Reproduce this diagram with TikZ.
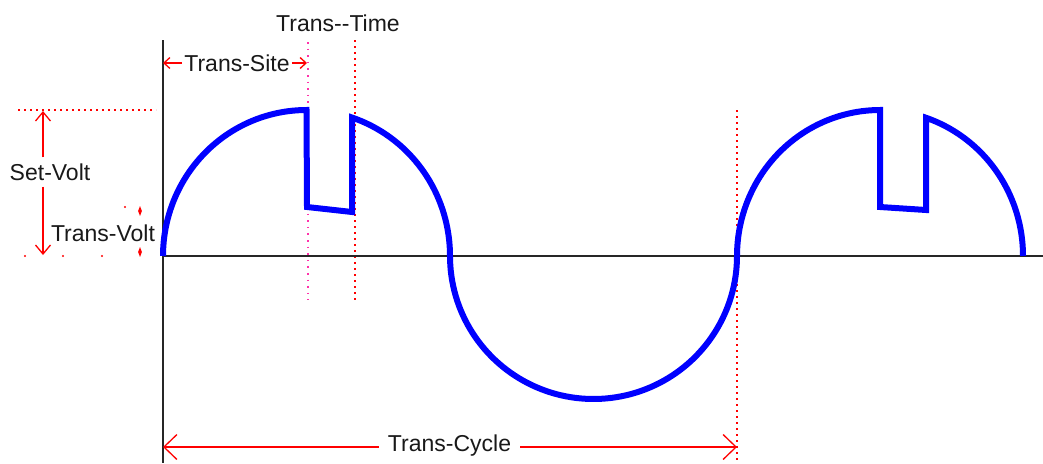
\documentclass[tikz,border=0pt]{standalone}
\usepackage{fontspec}
\setmainfont{Liberation Sans}
\usetikzlibrary{arrows.meta,shapes.geometric,calc}
\begin{document}
\begin{tikzpicture}[x=1pt,y=-1pt,
  lbl/.style={font=\fontsize{23}{26}\selectfont, inner sep=0pt, text=black!90},
  dimred/.style={draw=red, line width=1.3pt},
  bigtip/.style={-{Straight Barb[length=13pt,width=25pt,line width=1.3pt]}},
  midtip/.style={-{Straight Barb[length=9pt,width=15pt,line width=1.3pt]}},
  smalltip/.style={-{Straight Barb[length=6pt,width=11pt,line width=1.3pt]}},
  reddots/.style={draw=red, line width=1.6pt, dash pattern=on 1.6pt off 4.4pt},
  pinkdots/.style={draw={rgb,255:red,255;green,50;blue,170}, line width=1.6pt, dash pattern=on 1.6pt off 5pt},
  wave/.style={draw=blue, line width=6pt, line join=miter},
  axisline/.style={draw=black!85, line width=2pt},
  tvmark/.style={diamond, fill=red, minimum width=4pt, minimum height=10pt, inner sep=0pt},
  stray/.style={fill=red}
]
\useasboundingbox (0,0) rectangle (1043,463);
\fill[white] (0,0) rectangle (1043,463);

% coordinates
\coordinate (O) at (163,256);
\coordinate (axtop) at (163,40);
\coordinate (axbot) at (163,463);
\coordinate (axright) at (1043,256);
\coordinate (d1t) at (308,42);
\coordinate (d1b) at (308,300);
\coordinate (d2t) at (355,40);
\coordinate (d2b) at (355,300);
\coordinate (d3t) at (737,110);
\coordinate (d3b) at (737,463);
\coordinate (h1l) at (18,110);
\coordinate (h1r) at (156,110);
\coordinate (svtop) at (43,111);
\coordinate (svbot) at (43,255);
\coordinate (tsl) at (163,63);
\coordinate (tsr) at (307,63);
\coordinate (tcl) at (163,447);
\coordinate (tcr) at (737,447);

% dotted guide lines
\draw[pinkdots] (d1t) -- (d1b);
\draw[reddots] (d2t) -- (d2b);
\draw[reddots] (d3t) -- (d3b);
\draw[reddots] (h1l) -- (h1r);
\fill[stray] (25,256) circle (1.1pt);
\fill[stray] (63,256) circle (1.1pt);
\fill[stray] (102,256) circle (1.1pt);
\fill[stray] (125,207) circle (1.1pt);

% axes
\draw[axisline] (axtop) -- (axbot);
\draw[axisline] (O) -- (axright);

% wave
\draw[wave]
  plot[domain=180:270,samples=50] ({306.5+143.5*cos(\x)},{256+146*sin(\x)})
  -- (307,207) -- (352,212)
  -- plot[domain=288.5:360,samples=50] ({306.5+143.5*cos(\x)},{256+146*sin(\x)})
  -- plot[domain=180:360,samples=90] ({593.5+143.5*cos(\x)},{256-143*sin(\x)})
  -- plot[domain=180:270,samples=50] ({880+143*cos(\x)},{256+146*sin(\x)})
  -- (880,207) -- (926,210)
  -- plot[domain=288.8:360,samples=50] ({880+143*cos(\x)},{256+146*sin(\x)});

% labels
\node[lbl] (tt) at (338,23) {Trans-{}-Time};
\node[lbl, inner xsep=2pt] (ts) at (237,63) {Trans-Site};
\node[lbl, inner ysep=6pt] (sv) at (50,172) {Set-Volt};
\node[lbl] (tv) at (103,233) {Trans-Volt};
\node[lbl, inner xsep=9pt] (tc) at (449.5,446) {Trans-Cycle};

% dimension arrows
\draw[dimred, smalltip] (ts.west) -- (tsl);
\draw[dimred, smalltip] (ts.east) -- (tsr);
\draw[dimred, midtip] (sv.north -| svtop) -- (svtop);
\draw[dimred, midtip] (sv.south -| svbot) -- (svbot);
\draw[dimred, bigtip] (tc.west |- tcl) -- (tcl);
\draw[dimred, bigtip] (tc.east |- tcr) -- (tcr);
\node[tvmark] (tv1) at (140,211) {};
\node[tvmark] (tv2) at (140,252) {};
\end{tikzpicture}
\end{document}
